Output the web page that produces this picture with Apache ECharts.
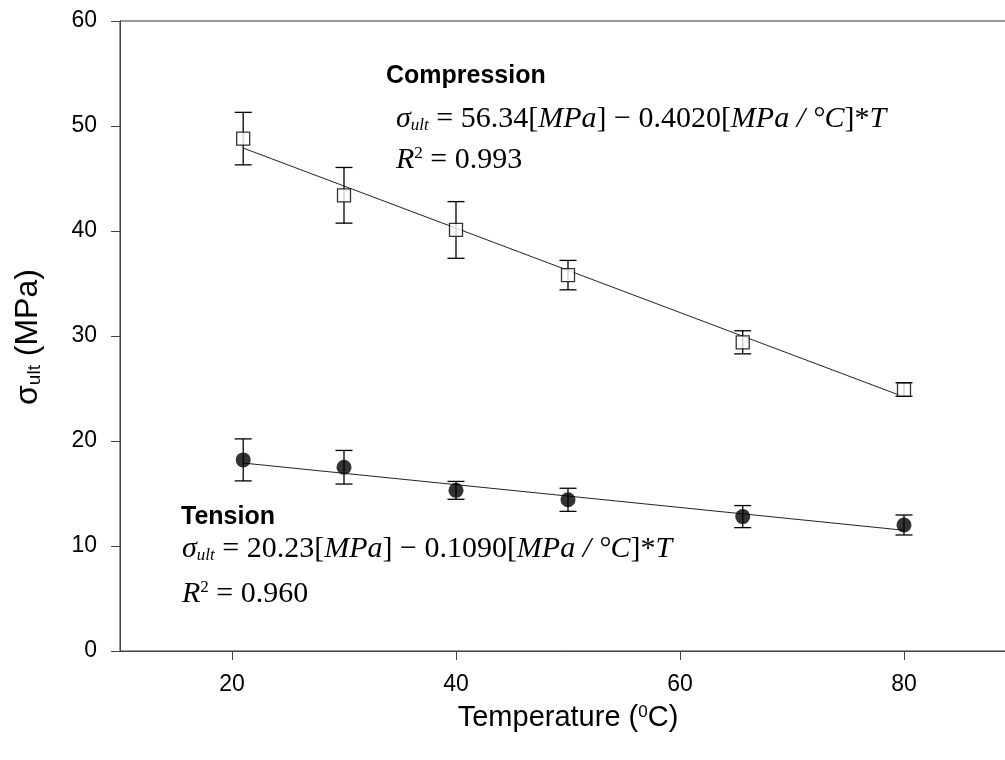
<!DOCTYPE html>
<html>
<head>
<meta charset="utf-8">
<script src="https://cdn.jsdelivr.net/npm/echarts@6/dist/echarts.min.js"></script>
<style>html,body{margin:0;padding:0;background:#fff}#c{width:1005px;height:760px}</style>
</head>
<body>
<div id="c"></div>
<script>
// Data
const temps = [21, 30, 40, 50, 65.6, 80];
const compMean = [48.8, 43.4, 40.1, 35.8, 29.4, 24.9];
const compErr  = [2.5, 2.65, 2.7, 1.4, 1.1, 0.65];
const tensMean = [18.2, 17.5, 15.3, 14.4, 12.8, 12.0];
const tensErr  = [2.0, 1.6, 0.85, 1.1, 1.05, 0.95];
const compFit = [[21, 47.9], [80, 24.2]];
const tensFit = [[21, 17.9], [80, 11.5]];
const xTicks = [20, 40, 60, 80];

const SANS = 'Liberation Sans';
const SERIF = 'Liberation Serif';

function pts(xs, ys, es) { return xs.map((x, i) => es ? [x, ys[i], es[i]] : [x, ys[i]]); }

function errRender(params, api) {
  const x = api.value(0), y = api.value(1), e = api.value(2);
  const t = api.coord([x, y + e]), b = api.coord([x, y - e]);
  const hw = 8.5;
  const st = { stroke: '#000', lineWidth: 1.3 };
  return { type: 'group', children: [
    { type: 'line', shape: { x1: t[0], y1: t[1], x2: b[0], y2: b[1] }, style: st },
    { type: 'line', shape: { x1: t[0] - hw, y1: t[1], x2: t[0] + hw, y2: t[1] }, style: st },
    { type: 'line', shape: { x1: b[0] - hw, y1: b[1], x2: b[0] + hw, y2: b[1] }, style: st }
  ]};
}

const FS = 30;
const eqRich = {
  n:   { fontFamily: SERIF, fontSize: FS, color: '#000' },
  i:   { fontFamily: SERIF, fontSize: FS, fontStyle: 'italic', color: '#000' },
  sub: { fontFamily: SERIF, fontSize: 17, fontStyle: 'italic', color: '#000', verticalAlign: 'bottom' },
  sup: { fontFamily: SERIF, fontSize: 17, color: '#000', verticalAlign: 'top' }
};

function eqText(a, b) {
  return '{i|σ}{sub|ult}{n| = ' + a + '[}{i|MPa}{n|] − ' + b + '[}{i|MPa / °C}{n|]*}{i|T}';
}
function r2Text(v) { return '{i|R}{sup|2}{n| = ' + v + '}'; }

function txt(x, y, text, extra) {
  return { type: 'text', x: x, y: y, style: Object.assign({ text: text, verticalAlign: 'middle', align: 'left', fill: '#000' }, extra) };
}

const chart = echarts.init(document.getElementById('c'), null, { renderer: 'canvas' });
chart.setOption({
  animation: false,
  backgroundColor: '#fff',
  grid: { left: 120, top: 21, width: 896, bottom: 109, outerBoundsMode: 'none', containLabel: false,
          show: true, borderColor: '#333', borderWidth: 1 },
  xAxis: {
    type: 'value', min: 10, max: 90,
    axisLine: { show: true, lineStyle: { color: '#444', width: 1 } },
    axisTick: { show: true, inside: false, length: 9, customValues: xTicks, lineStyle: { color: '#444' } },
    axisLabel: { customValues: xTicks, fontFamily: SANS, fontSize: 23, color: '#000', margin: 22 },
    splitLine: { show: false }
  },
  yAxis: {
    type: 'value', min: 0, max: 60, interval: 10,
    axisLine: { show: true, lineStyle: { color: '#444', width: 1 } },
    axisTick: { show: true, inside: false, length: 9, lineStyle: { color: '#444' } },
    axisLabel: { fontFamily: SANS, fontSize: 23, color: '#000', margin: 23 },
    splitLine: { show: false }
  },
  series: [
    { name: 'CompFit', type: 'line', data: compFit, symbol: 'none', lineStyle: { color: '#222', width: 1 }, z: 2 },
    { name: 'TensFit', type: 'line', data: tensFit, symbol: 'none', lineStyle: { color: '#222', width: 1 }, z: 2 },
    { name: 'CompErr', type: 'custom', data: pts(temps, compMean, compErr), renderItem: errRender, z: 3 },
    { name: 'TensErr', type: 'custom', data: pts(temps, tensMean, tensErr), renderItem: errRender, z: 3 },
    { name: 'Compression', type: 'scatter', data: pts(temps, compMean), symbol: 'rect', symbolSize: 13,
      itemStyle: { color: '#fff', borderColor: '#000', borderWidth: 1.3 }, z: 4 },
    { name: 'Tension', type: 'scatter', data: pts(temps, tensMean), symbol: 'circle', symbolSize: 15,
      itemStyle: { color: '#000' }, z: 4 }
  ],
  graphic: [
    txt(386, 76, 'Compression', { font: 'bold 25px "Liberation Sans"' }),
    txt(396, 119, eqText('56.34', '0.4020'), { rich: eqRich }),
    txt(396, 160, r2Text('0.993'), { rich: eqRich }),
    txt(181, 517, 'Tension', { font: 'bold 25px "Liberation Sans"' }),
    txt(182, 549, eqText('20.23', '0.1090'), { rich: eqRich }),
    txt(182, 594, r2Text('0.960'), { rich: eqRich }),
    { type: 'text', x: 568, y: 718, style: { text: '{a|Temperature (}{s|0}{a|C)}', align: 'center', verticalAlign: 'middle',
      rich: { a: { fontFamily: SANS, fontSize: 29, color: '#000' }, s: { fontFamily: SANS, fontSize: 17, color: '#000', verticalAlign: 'top' } } } },
    { type: 'text', x: 28, y: 337, rotation: Math.PI / 2, style: { text: '{a|σ}{s|ult}{a| (MPa)}', align: 'center', verticalAlign: 'middle',
      rich: { a: { fontFamily: SANS, fontSize: 32, color: '#000' }, s: { fontFamily: SANS, fontSize: 19, color: '#000', verticalAlign: 'bottom' } } } }
  ]
});
</script>
</body>
</html>
